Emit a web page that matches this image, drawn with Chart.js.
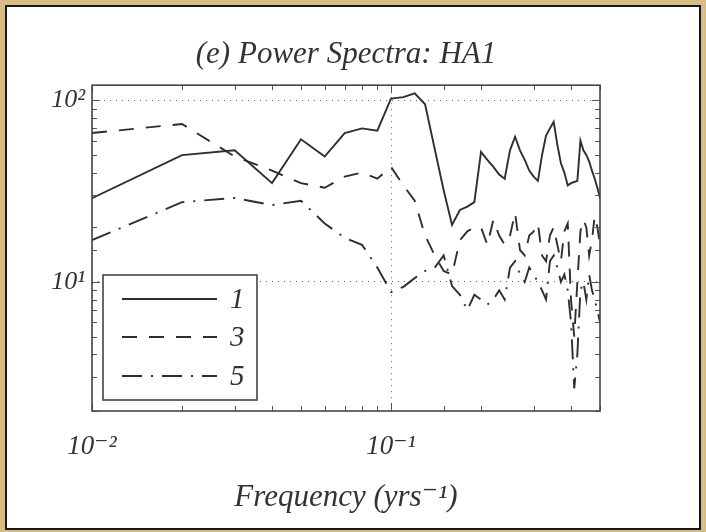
<!DOCTYPE html>
<html>
<head>
<meta charset="utf-8">
<script src="https://cdn.jsdelivr.net/npm/chart.js@4.4.0/dist/chart.umd.min.js"></script>
<style>
  html, body { margin: 0; padding: 0; }
  body { width: 706px; height: 532px; background: #d8bc86; position: relative; overflow: hidden; }
  #panel { position: absolute; left: 5px; top: 5px; width: 692px; height: 521px; border: 2px solid #161616; background: #fff; }
  #panel canvas { display: block; }
</style>
</head>
<body>
<div id="panel"><canvas id="myChart" width="692" height="521"></canvas></div>
<script>
// frequencies (1/yr)
const freq = [0.01, 0.02, 0.03, 0.04, 0.05, 0.06, 0.07, 0.08, 0.09, 0.10,
  0.11, 0.12, 0.13, 0.14, 0.15, 0.16, 0.17, 0.18, 0.19, 0.20,
  0.21, 0.22, 0.23, 0.24, 0.25, 0.26, 0.27, 0.28, 0.29, 0.30,
  0.31, 0.32, 0.33, 0.34, 0.35, 0.36, 0.37, 0.38, 0.39, 0.40,
  0.41, 0.42, 0.43, 0.44, 0.45, 0.46, 0.47, 0.48, 0.49, 0.50];

// power, series "1" (solid)
const power1 = [28.9, 49.9, 53, 35, 61, 49, 66, 70, 68, 102,
  104, 109, 95, 54, 32, 20.6, 24.9, 26, 27.5, 52,
  47, 43, 39, 37, 53, 63, 53, 47, 41, 38,
  36, 50, 64, 70, 76, 57, 45, 40, 34, 35,
  35.5, 36, 60, 53, 50, 46, 41, 37, 33, 29];

// power, series "3" (dashed)
const power3 = [66, 74, 49, 41, 35, 33, 38, 40, 37, 43,
  34, 28, 18, 14, 11.5, 11, 17, 19, 20, 20,
  16, 22, 18, 16, 18, 24, 15, 14, 18, 19,
  21, 14, 13, 18, 20, 16, 13, 19, 21, 8,
  5, 10, 19, 22, 20, 14, 17, 23, 20, 16];

// power, series "5" (dash-dot)
const power5 = [17, 27.5, 29, 26.5, 28, 21, 17.5, 16, 12, 8.8,
  9.4, 10.5, 11.5, 12, 14, 9.5, 8.5, 7, 8.5, 8,
  7.5, 8, 9, 8, 12, 13, 11, 10, 12, 11,
  10, 9, 8, 13, 14, 12, 10, 11, 9, 6,
  2.6, 4, 9, 10, 8, 11, 9, 8, 7, 6];

const seriesNames = ['1', '3', '5'];
const decadeLabels = { '-2': '10\u207B\u00B2', '-1': '10\u207B\u00B9', '1': '10\u00B9', '2': '10\u00B2' };

const serif = "'Liberation Serif', 'DejaVu Serif', serif";
const ink = '#333';

function decadeOf(v) {
  const e = Math.log10(v);
  return Math.abs(e - Math.round(e)) < 1e-6 ? Math.round(e) : null;
}

function toPoints(ys) {
  return ys.map((y, i) => ({ x: freq[i], y: y }));
}

// frame + inward ticks, like the matlab box
const frame = {
  id: 'frame',
  afterDatasetsDraw(chart) {
    const { ctx, chartArea: a, scales } = chart;
    ctx.save();
    ctx.strokeStyle = '#555';
    ctx.lineWidth = 1;
    scales.x.ticks.forEach(t => {
      const px = Math.round(scales.x.getPixelForValue(t.value)) + 0.5;
      const len = decadeOf(t.value) !== null ? 8 : 5;
      ctx.beginPath();
      ctx.moveTo(px, a.bottom); ctx.lineTo(px, a.bottom - len);
      ctx.moveTo(px, a.top); ctx.lineTo(px, a.top + len);
      ctx.stroke();
    });
    scales.y.ticks.forEach(t => {
      const py = Math.round(scales.y.getPixelForValue(t.value)) + 0.5;
      const len = decadeOf(t.value) !== null ? 8 : 5;
      ctx.beginPath();
      ctx.moveTo(a.left, py); ctx.lineTo(a.left + len, py);
      ctx.moveTo(a.right, py); ctx.lineTo(a.right - len, py);
      ctx.stroke();
    });
    ctx.lineWidth = 1.6;
    ctx.strokeStyle = '#444';
    ctx.strokeRect(a.left, a.top, a.right - a.left, a.bottom - a.top);
    ctx.restore();
  }
};

// legend box inside the lower left corner
const boxLegend = {
  id: 'boxLegend',
  afterDraw(chart) {
    const { ctx, chartArea: a } = chart;
    const w = 154, h = 125;
    const left = a.left + 11, top = a.bottom - 11 - h;
    ctx.save();
    ctx.fillStyle = '#fff';
    ctx.fillRect(left, top, w, h);
    ctx.strokeStyle = '#444';
    ctx.lineWidth = 1.6;
    ctx.strokeRect(left, top, w, h);
    const rows = [24, 62, 101];
    chart.data.datasets.forEach((ds, i) => {
      const y = top + rows[i];
      ctx.strokeStyle = ds.borderColor;
      ctx.lineWidth = ds.borderWidth;
      ctx.setLineDash(ds.borderDash || []);
      ctx.beginPath();
      ctx.moveTo(left + 19, y);
      ctx.lineTo(left + 114, y);
      ctx.stroke();
      ctx.setLineDash([]);
      ctx.fillStyle = ink;
      ctx.font = 'italic 29px ' + serif;
      ctx.textBaseline = 'middle';
      ctx.textAlign = 'left';
      ctx.fillText(ds.label, left + 127, y + 1);
    });
    ctx.restore();
  }
};

const lineBase = { borderColor: '#2e2e2e', borderWidth: 1.9, pointRadius: 0, tension: 0, fill: false };

new Chart(document.getElementById('myChart'), {
  type: 'line',
  data: {
    datasets: [
      Object.assign({ label: seriesNames[0], data: toPoints(power1), borderDash: [] }, lineBase),
      Object.assign({ label: seriesNames[1], data: toPoints(power3), borderDash: [15, 12] }, lineBase),
      Object.assign({ label: seriesNames[2], data: toPoints(power5), borderDash: [20, 9, 2, 9] }, lineBase)
    ]
  },
  options: {
    responsive: false,
    animation: false,
    devicePixelRatio: 1,
    layout: { padding: { left: 0, right: 99, top: 0, bottom: 0 } },
    plugins: {
      legend: { display: false },
      tooltip: { enabled: false },
      title: {
        display: true,
        fullSize: false,
        text: '(e) Power Spectra: HA1',
        color: ink,
        font: { family: serif, size: 31, style: 'italic', weight: 'normal', lineHeight: 1.2 },
        padding: { top: 29, bottom: 12 }
      }
    },
    scales: {
      x: {
        type: 'logarithmic',
        position: 'bottom',
        min: 0.01,
        max: 0.5,
        afterFit: s => { s.height = 117; },
        border: { display: false, dash: [1, 5] },
        grid: {
          drawTicks: false,
          lineWidth: 1,
          color: c => (c.tick && decadeOf(c.tick.value) !== null) ? '#666' : 'rgba(0,0,0,0)'
        },
        ticks: {
          autoSkip: false,
          maxRotation: 0,
          padding: 20,
          color: ink,
          font: { family: serif, size: 27, style: 'italic' },
          callback: v => { const d = decadeOf(v); return d !== null && decadeLabels[d] ? decadeLabels[d] : ''; }
        },
        title: {
          display: true,
          text: 'Frequency (yrs\u207B\u00B9)',
          color: ink,
          font: { family: serif, size: 31, style: 'italic', lineHeight: 1.2 },
          padding: { top: 0, bottom: 12 }
        }
      },
      y: {
        type: 'logarithmic',
        min: 1.95,
        max: 121,
        afterFit: s => { s.width = 85; },
        border: { display: false, dash: [1, 5] },
        grid: {
          drawTicks: false,
          lineWidth: 1,
          color: c => (c.tick && decadeOf(c.tick.value) !== null) ? '#666' : 'rgba(0,0,0,0)'
        },
        ticks: {
          autoSkip: false,
          padding: 7,
          color: ink,
          font: { family: serif, size: 26, style: 'italic' },
          callback: v => { const d = decadeOf(v); return d !== null && decadeLabels[d] ? decadeLabels[d] : ''; }
        }
      }
    }
  },
  plugins: [frame, boxLegend]
});
</script>
</body>
</html>
